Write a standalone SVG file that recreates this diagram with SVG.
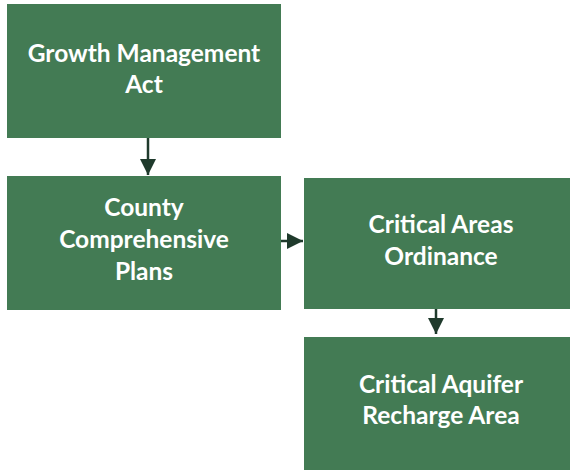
<svg xmlns="http://www.w3.org/2000/svg" width="570" height="470" viewBox="0 0 570 470">
<style>
.box{fill:#437B54;}
.t{fill:#ffffff;font-family:Lato,"Open Sans","Liberation Sans",sans-serif;font-size:24.5px;font-weight:bold;text-anchor:middle;}
.c{stroke:#1F3A2C;stroke-width:2.5;fill:none;}
</style>
<defs>
<marker id="ah" markerWidth="16" markerHeight="16" refX="16" refY="8" orient="auto" markerUnits="userSpaceOnUse" viewBox="0 0 16 16">
<path d="M0,0 L16,8 L0,16 Z" fill="#1F3A2C"/>
</marker>
</defs>
<rect width="570" height="470" fill="#ffffff"/>
<g id="connectors">
<line class="c" x1="148" y1="138" x2="148" y2="175" marker-end="url(#ah)"/>
<line class="c" x1="281" y1="241" x2="303" y2="241" marker-end="url(#ah)"/>
<line class="c" x1="436" y1="309" x2="436" y2="334" marker-end="url(#ah)"/>
</g>
<g id="gma">
<rect class="box" x="7" y="4" width="274" height="134"/>
<text class="t" x="144" y="62">Growth Management</text>
<text class="t" x="144" y="93">Act</text>
</g>
<g id="ccp">
<rect class="box" x="7" y="176" width="274" height="134"/>
<text class="t" x="144" y="216">County</text>
<text class="t" x="144" y="248">Comprehensive</text>
<text class="t" x="144" y="280">Plans</text>
</g>
<g id="cao">
<rect class="box" x="304" y="178" width="274" height="131"/>
<text class="t" x="441" y="233">Critical Areas</text>
<text class="t" x="441" y="265">Ordinance</text>
</g>
<g id="cara">
<rect class="box" x="304" y="337" width="274" height="140"/>
<text class="t" x="441" y="393">Critical Aquifer</text>
<text class="t" x="441" y="424">Recharge Area</text>
</g>
</svg>
